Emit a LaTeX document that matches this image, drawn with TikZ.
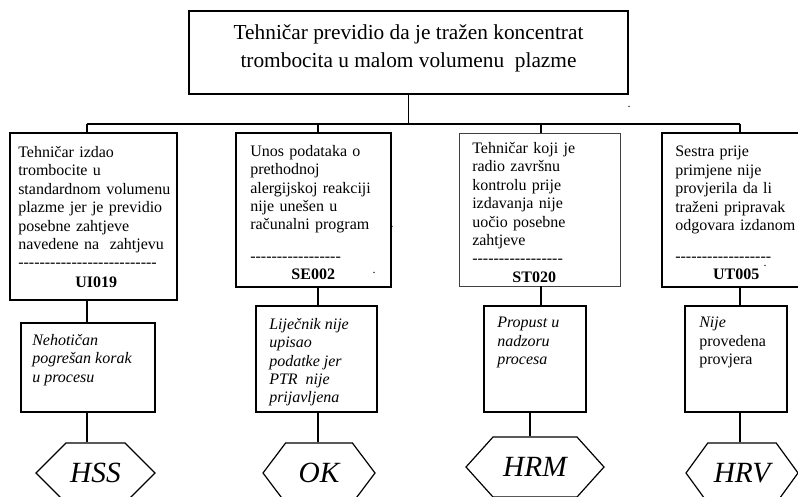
\documentclass[tikz,border=0pt]{standalone}
\usepackage{fontspec}
\setmainfont{Liberation Serif}
\usepackage{tikz}
\usetikzlibrary{shapes.symbols}

\newcommand{\crtice}[1]{\foreach \n in {1,...,#1}{\mbox{-}}}
\newcommand{\sifra}[2]{\makebox[#1]{\textbf{#2}}}

\begin{document}
\begin{tikzpicture}[x=0.75pt, y=-0.75pt,
      event/.style  = {rectangle, draw, line width=0.9pt, inner sep=0pt},
      cause/.style  = {rectangle, draw, line width=0.9pt, inner sep=0pt},
      reason/.style = {rectangle, draw, line width=0.9pt, inner sep=0pt},
      klasa/.style  = {signal, signal to=east and west, draw, line width=0.9pt,
          inner sep=0pt, minimum height=45pt, font=\fontsize{22}{24}\selectfont\itshape},
      txt/.style    = {anchor=north west, inner sep=0pt, align=left,
          font=\fontsize{12}{13.8}\selectfont},
      link/.style   = {line width=0.9pt},
    ]
    \useasboundingbox (0,0) rectangle (798,496);

    % -- Glavni dogadaj ------------------------------------------
    \node[event, minimum width=329.25pt, minimum height=62.25pt] (top) at (408.5,52.5) {};
    \node[anchor=north, inner sep=0pt, align=center, font=\fontsize{16}{21}\selectfont]
        (toptxt) at (408.5,24) {Tehničar previdio da je tražen koncentrat\\trombocita u malom volumenu~ plazme};

    % -- Uzroci --------------------------------------------------
    \node[cause, minimum width=125.25pt, minimum height=125.25pt] (c1) at (93.5,216.5) {};
    \node[cause, minimum width=116.25pt, minimum height=115.5pt]  (c2) at (313.5,210) {};
    \node[cause, minimum width=120.75pt, minimum height=114.75pt,
          draw=black!75, line width=0.5pt]                        (c3) at (539.5,209.5) {};
    \node[cause, minimum width=103.5pt, minimum height=115.5pt]   (c4) at (731,210) {};

    \node[txt, text width=120pt] (t1) at (18,146)
        {Tehničar izdao\\trombocite u\\standardnom volumenu\\plazme jer je previdio\\posebne zahtjeve\\navedene na~ zahtjevu\\\crtice{26}\\[1pt]
         \sifra{117pt}{UI019}};
    \node[txt, text width=100pt] (t2) at (250,145)
        {Unos podataka o\\prethodnoj\\alergijskoj reakciji\\nije unešen u\\računalni program\\[9.5pt]\crtice{17}\\
         \sifra{94.5pt}{SE002}};
    \node[txt, text width=100pt] (t3) at (472,142)
        {Tehničar koji je\\radio završnu\\kontrolu prije\\izdavanja nije\\uočio posebne\\zahtjeve\\\crtice{17}\\
         \sifra{93pt}{ST020}};
    \node[txt, text width=100pt] (t4) at (675,146)
        {Sestra prije\\primjene nije\\provjerila da li\\traženi pripravak\\odgovara izdanom\\[9.5pt]\crtice{18}\\
         \sifra{91.5pt}{UT005}};

    % -- Razlozi -------------------------------------------------
    \node[reason, minimum width=100.5pt, minimum height=66.75pt] (k1) at (88,367.5) {};
    \node[reason, minimum width=90.75pt, minimum height=79.5pt]  (k2) at (316.5,359) {};
    \node[reason, minimum width=76.5pt,  minimum height=79.5pt]  (k3) at (535,359) {};
    \node[reason, minimum width=76.5pt,  minimum height=79.5pt]  (k4) at (736,359) {};

    \node[txt, font=\fontsize{12}{13.8}\selectfont\itshape] (r1) at (32,334)
        {Nehotičan\\pogrešan korak\\u procesu};
    \node[txt, font=\fontsize{12}{13.8}\selectfont\itshape] (r2) at (269,318)
        {Liječnik nije\\upisao\\podatke jer\\PTR~ nije\\prijavljena};
    \node[txt, font=\fontsize{12}{13.8}\selectfont\itshape] (r3) at (497,317)
        {Propust u\\nadzoru\\procesa};
    \node[txt] (r4) at (699,317)
        {\textit{Nije}\\provedena\\provjera};

    % -- Klasifikacija -------------------------------------------
    \node[klasa, minimum width=89.25pt, signal pointer angle=90]  (h1) at (95.5,473) {HSS};
    \node[klasa, minimum width=84pt,    signal pointer angle=106] (h2) at (319,473) {OK};
    \node[klasa, minimum width=103.5pt, signal pointer angle=96]  (h3) at (535,467) {HRM};
    \node[klasa, minimum width=84pt,    signal pointer angle=108] (h4) at (742,473) {HRV};

    % -- Tockice -------------------------------------------------
    \node[inner sep=0pt, font=\small] (p1) at (629,107) {.};
    \node[inner sep=0pt, font=\small] (p2) at (392,227) {.};
    \node[inner sep=0pt, font=\small] (p3) at (374,273) {.};
    \node[inner sep=0pt, font=\small] (p4) at (765,266) {.};

    % -- Veze ----------------------------------------------------
    \coordinate (bus) at (408.5,124);
    \coordinate (d1) at (87,124);
    \coordinate (d2) at (318,124);
    \coordinate (d3) at (541,124);
    \coordinate (d4) at (740,124);

    \draw[link] (top.south) -- (bus);
    \draw[link] (d1) -- (d4);
    \foreach \i in {1,...,4} {
      \draw[link] (d\i) -- (d\i |- c\i.north);
      \draw[link] (d\i |- c\i.south) -- (d\i |- k\i.north);
    }
    \draw[link] (d1 |- k1.south) -- (d1 |- h1.north);
    \draw[link] (d2 |- k2.south) -- (d2 |- h2.north);
    \draw[link] ([xshift=-3.75pt]h3.north |- k3.south) -- ([xshift=-3.75pt]h3.north);
    \draw[link] (d4 |- k4.south) -- (d4 |- h4.north);

  \end{tikzpicture}
\end{document}
